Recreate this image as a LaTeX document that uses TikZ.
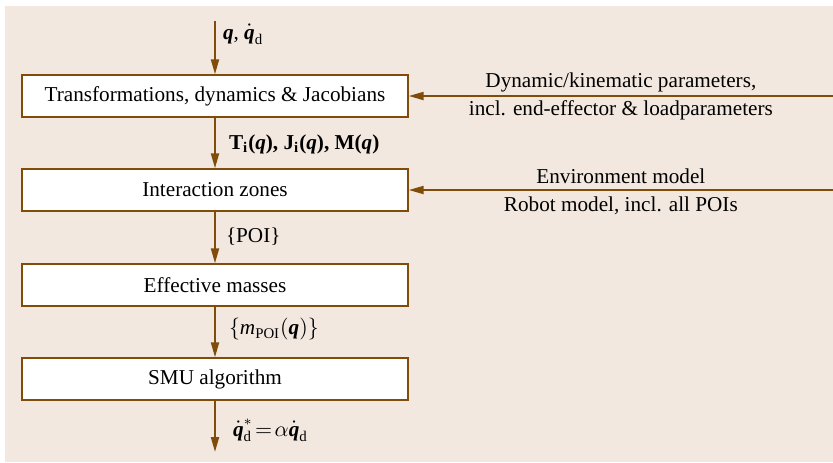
\documentclass[tikz,border=0pt]{standalone}
\usepackage{amsmath}
\usepackage{fontspec}
\setmainfont{Liberation Serif}
\usetikzlibrary{arrows.meta, positioning}
\definecolor{flowbrown}{RGB}{127,76,9}
\definecolor{paper}{RGB}{242,232,223}
\newcommand{\qvec}{\text{\bfseries\itshape q}}

\begin{document}
\begin{tikzpicture}[x=0.5pt, y=-0.5pt,
    font=\fontsize{10.6}{13}\selectfont,
    blk/.style={draw=flowbrown, line width=0.7pt, fill=white,
        minimum width=193pt, minimum height=21pt, inner sep=0pt},
    flow/.style={draw=flowbrown, line width=1pt,
        -{Triangle[length=7.5pt, width=4pt]}},
    lbl/.style={anchor=west, inner sep=0pt}]
    % background
    \useasboundingbox (0,0) rectangle (833,462);
    \fill[paper] (5,6) rectangle (833,462);

    % main chain
    \node[blk] (trans) at (215,96) {Transformations, dynamics \& Jacobians};
    \node[blk] (inter) at (215,190) {Interaction zones};
    \node[blk] (effm) at (215,285) {Effective masses};
    \node[blk] (smu) at (215,379) {SMU algorithm};

    % loose ends
    \coordinate (qin) at (215,21);
    \coordinate (qout) at (215,452);
    \coordinate (dynsrc) at (833,96);
    \coordinate (envsrc) at (833,190);

    % vertical flow
    \draw[flow] (qin) -- (trans)
        node[lbl, pos=0.25, xshift=3.5pt] {$\qvec$, $\dot{\qvec}_{\mathrm{d}}$};
    \draw[flow] (trans) -- (inter)
        node[lbl, pos=0.52, xshift=6.5pt] {\bfseries T$_{\mathbf{i}}$(\textit{q}), J$_{\mathbf{i}}$(\textit{q}), M(\textit{q})};
    \draw[flow] (inter) -- (effm)
        node[lbl, pos=0.48, xshift=5pt] {\{POI\}};
    \draw[flow] (effm) -- (smu)
        node[lbl, pos=0.45, xshift=6.5pt] {$\{\text{\itshape m}_{\mathrm{POI}}(\qvec)\}$};
    \draw[flow] (smu) -- (qout)
        node[lbl, pos=0.58, xshift=8.5pt] {$\dot{\qvec}^{*}_{\mathrm{d}}\!=\!\alpha\dot{\qvec}_{\mathrm{d}}$};

    % side inputs
    \draw[flow] (dynsrc) -- (trans)
        node[midway, anchor=base, yshift=4.3pt] {Dynamic/kinematic parameters,}
        node[midway, anchor=base, yshift=-9.5pt] {incl. end-effector \& loadparameters};
    \draw[flow] (envsrc) -- (inter)
        node[midway, anchor=base, yshift=3.5pt] {Environment model}
        node[midway, anchor=base, yshift=-10.5pt] {Robot model, incl. all POIs};
\end{tikzpicture}
\end{document}
